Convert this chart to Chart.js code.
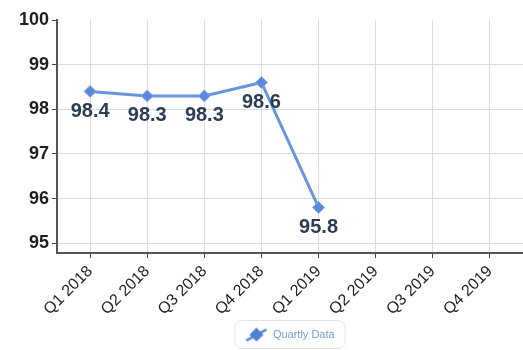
<!DOCTYPE html>
<html>
<head>
<meta charset="utf-8">
<script src="https://cdn.jsdelivr.net/npm/chart.js@4.4.0/dist/chart.umd.min.js"></script>
<style>
  html, body { margin: 0; padding: 0; background: #fff; }
  #wrap { width: 523px; height: 350px; }
</style>
</head>
<body>
<div id="wrap"><canvas id="qChart"></canvas></div>
<script>
// quarters on the x axis
var quarters = ['Q1 2018', 'Q2 2018', 'Q3 2018', 'Q4 2018', 'Q1 2019', 'Q2 2019', 'Q3 2019', 'Q4 2019'];
// quarterly values (no data yet for the rest of 2019)
var quartlyData = [98.4, 98.3, 98.3, 98.6, 95.8, null, null, null];
var yTicks = [95, 96, 97, 98, 99, 100];
var seriesName = 'Quartly Data';

var lineBlue = '#6b93dc';
var pointBlue = '#5b88d8';

// little legend icon: a line with a diamond on it
var icon = document.createElement('canvas');
icon.width = 22; icon.height = 16;
var ic = icon.getContext('2d');
ic.strokeStyle = '#4d7bd0'; ic.lineWidth = 2.5;
ic.beginPath(); ic.moveTo(1, 14); ic.lineTo(21, 3); ic.stroke();
ic.fillStyle = '#4f80d8';
ic.beginPath(); ic.moveTo(11, 1); ic.lineTo(18, 8.5); ic.lineTo(11, 15); ic.lineTo(4, 8.5); ic.closePath(); ic.fill();

// values written under each point
const valueLabels = {
  id: 'valueLabels',
  afterDatasetsDraw(chart) {
    const ctx = chart.ctx;
    const meta = chart.getDatasetMeta(0);
    ctx.save();
    ctx.font = 'bold 20px "Liberation Sans", Arial, sans-serif';
    ctx.fillStyle = '#2c3d54';
    ctx.textAlign = 'center';
    ctx.textBaseline = 'middle';
    meta.data.forEach(function (pt, i) {
      if (quartlyData[i] == null) return;
      ctx.fillText(quartlyData[i].toFixed(1), pt.x, pt.y + 20);
    });
    ctx.restore();
  }
};

// rounded frame around the legend item
const legendFrame = {
  id: 'legendFrame',
  afterDraw(chart) {
    const lg = chart.legend;
    if (!lg || !lg.legendHitBoxes || !lg.legendHitBoxes.length) return;
    const b = lg.legendHitBoxes[0];
    const ctx = chart.ctx;
    ctx.save();
    ctx.strokeStyle = '#dfe4ea';
    ctx.lineWidth = 1;
    ctx.beginPath();
    ctx.roundRect(b.left - 10.5, b.top - 8.5, b.width + 21, b.height + 17, 7);
    ctx.stroke();
    ctx.restore();
  }
};

const ctx = document.getElementById('qChart').getContext('2d');

const myChart = new Chart(ctx, {
  type: 'line',
  data: {
    datasets: [{
      label: seriesName,
      data: quartlyData.map(function (v, i) { return { x: i, y: v }; }),
      borderColor: lineBlue,
      borderWidth: 3,
      backgroundColor: pointBlue,
      pointStyle: 'rectRot',
      pointRadius: 6,
      pointBackgroundColor: pointBlue,
      pointBorderColor: '#8aaee8',
      pointBorderWidth: 1,
      tension: 0,
      spanGaps: false
    }]
  },
  options: {
    responsive: true,
    maintainAspectRatio: false,
    animation: false,
    layout: { autoPadding: false, padding: { top: 20, right: 0, left: 0, bottom: 0 } },
    plugins: {
      tooltip: { enabled: false },
      legend: {
        position: 'bottom',
        fullSize: false,
        labels: {
          usePointStyle: true,
          pointStyleWidth: 22,
          padding: 7,
          color: '#7b9cc8',
          font: { family: '"Liberation Sans", Arial, sans-serif', size: 11 },
          generateLabels: function (chart) {
            var items = Chart.defaults.plugins.legend.labels.generateLabels(chart);
            items.forEach(function (it) { it.pointStyle = icon; });
            return items;
          }
        }
      }
    },
    scales: {
      x: {
        type: 'linear',
        min: -0.58,
        max: 7.58,
        afterBuildTicks: function (scale) {
          scale.ticks = quarters.map(function (q, i) { return { value: i }; });
        },
        afterFit: function (scale) {
          scale.height = 69;
          scale.paddingRight = 0;
        },
        ticks: {
          autoSkip: false,
          minRotation: 45,
          maxRotation: 45,
          padding: 4,
          color: '#222',
          font: { family: '"Liberation Sans", Arial, sans-serif', size: 16 },
          callback: function (v) { return quarters[v]; }
        },
        grid: {
          color: '#dcdcdc',
          tickColor: '#444',
          tickLength: 5,
          lineWidth: 1
        },
        border: { color: '#555', width: 2 }
      },
      y: {
        min: 94.78,
        max: 100,
        afterBuildTicks: function (scale) {
          scale.ticks = yTicks.map(function (v) { return { value: v }; });
        },
        afterFit: function (scale) { scale.width = 57; },
        ticks: {
          padding: 3,
          color: '#1e1e1e',
          font: { family: '"Liberation Sans", Arial, sans-serif', size: 18, weight: 'bold' }
        },
        grid: {
          color: function (c) { return c.tick && c.tick.value === 100 ? 'rgba(0,0,0,0)' : '#dcdcdc'; },
          tickColor: '#444',
          tickLength: 5,
          lineWidth: 1
        },
        border: { color: '#555', width: 2 }
      }
    }
  },
  plugins: [valueLabels, legendFrame]
});
</script>
</body>
</html>
